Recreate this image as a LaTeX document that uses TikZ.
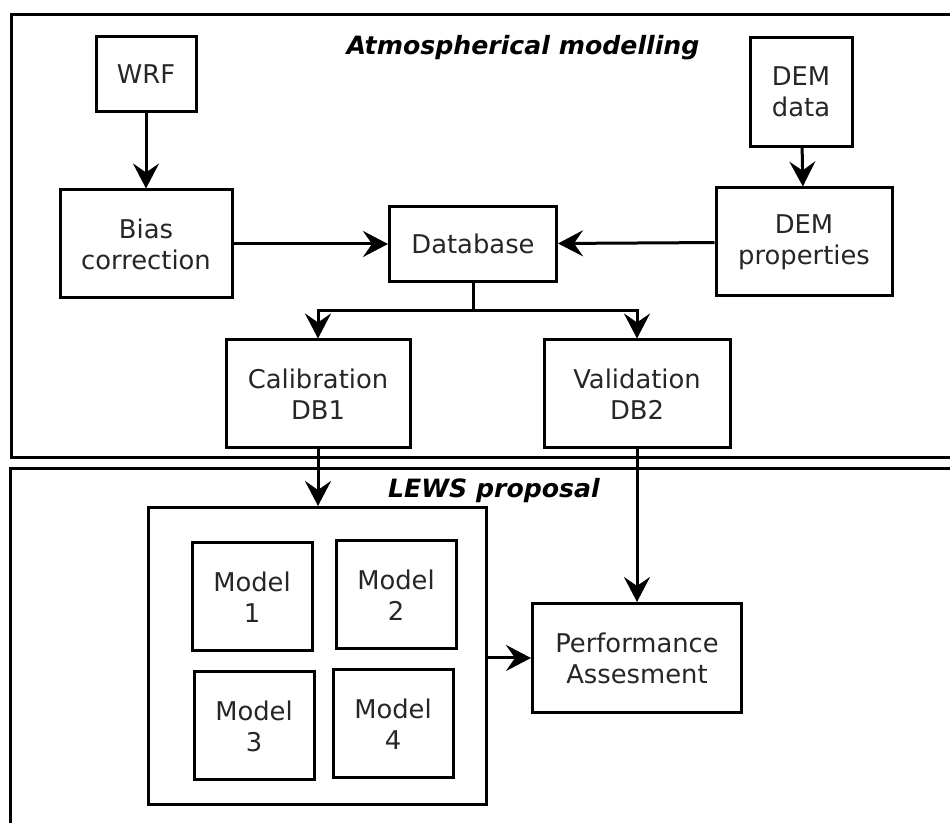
\documentclass[tikz,border=0pt]{standalone}
\usepackage{fontspec}
\setmainfont{DejaVu Sans}
\usetikzlibrary{arrows.meta}

\tikzset{
  box/.style={draw, line width=1.5pt, align=center, inner sep=2pt,
    text=black!85, font=\fontsize{12.9}{15.5}\selectfont},
  flow/.style={line width=1.5pt, -{Stealth[length=12.5pt, width=13pt, inset=4.5pt]}},
  frame/.style={line width=1.5pt},
  title/.style={font=\fontsize{12.6}{14}\selectfont\bfseries\itshape},
}

\begin{document}
\begin{tikzpicture}[x=0.5pt, y=-0.5pt]

  \useasboundingbox (0,0) rectangle (950,823);

  % Frames — the right and bottom sides run off the page
  \draw[frame] (11,15) rectangle (965,458);
  \draw[frame] (10,469) rectangle (965,840);
  \node[title] (ttop) at (523,48) {Atmospherical modelling};
  \node[title] (tbot) at (494,491) {LEWS proposal};

  % Atmospherical modelling
  \node[box, minimum width=50pt, minimum height=37.5pt] (wrf) at (146,74) {WRF};
  \node[box, minimum width=51pt, minimum height=54.5pt] (demdata) at (801,92) {DEM\\data};
  \node[box, minimum width=86pt, minimum height=54pt] (bias) at (146,244) {Bias\\correction};
  \node[box, minimum width=83.5pt, minimum height=37.5pt] (db) at (473,244) {Database};
  \node[box, minimum width=88pt, minimum height=54pt] (demprop) at (804,242) {DEM\\properties};
  \node[box, minimum width=92pt, minimum height=54pt] (calib) at (318,394) {Calibration\\DB1};
  \node[box, minimum width=93pt, minimum height=54pt] (valid) at (637,394) {Validation\\DB2};

  % LEWS proposal
  \node[box, minimum width=169pt, minimum height=148.5pt] (models) at (317,656) {};
  \foreach \i/\x/\y in {1/252/597, 2/396/595, 3/254/726, 4/393/724}{
    \node[box, minimum width=60pt, minimum height=54pt] (m\i) at (\x,\y) {Model\\\i};
  }
  \node[box, minimum width=104.5pt, minimum height=54.5pt] (perf) at (637,658) {Performance\\Assesment};

  % Connectors
  \draw[flow] (wrf) -- (bias);
  \draw[flow] (demdata) -- (demprop);
  \draw[flow] (bias) -- (db);
  \draw[flow] (demprop) -- (db);
  \draw[flow] (db.south) -- ++(0,28) -| (calib.north);
  \draw[flow] (db.south) -- ++(0,28) -| (valid.north);
  \draw[flow] (calib.south) -- (calib.south |- models.north);
  \draw[flow] (valid) -- (perf);
  \draw[flow] (models.east |- perf.west) -- (perf.west);

\end{tikzpicture}
\end{document}
